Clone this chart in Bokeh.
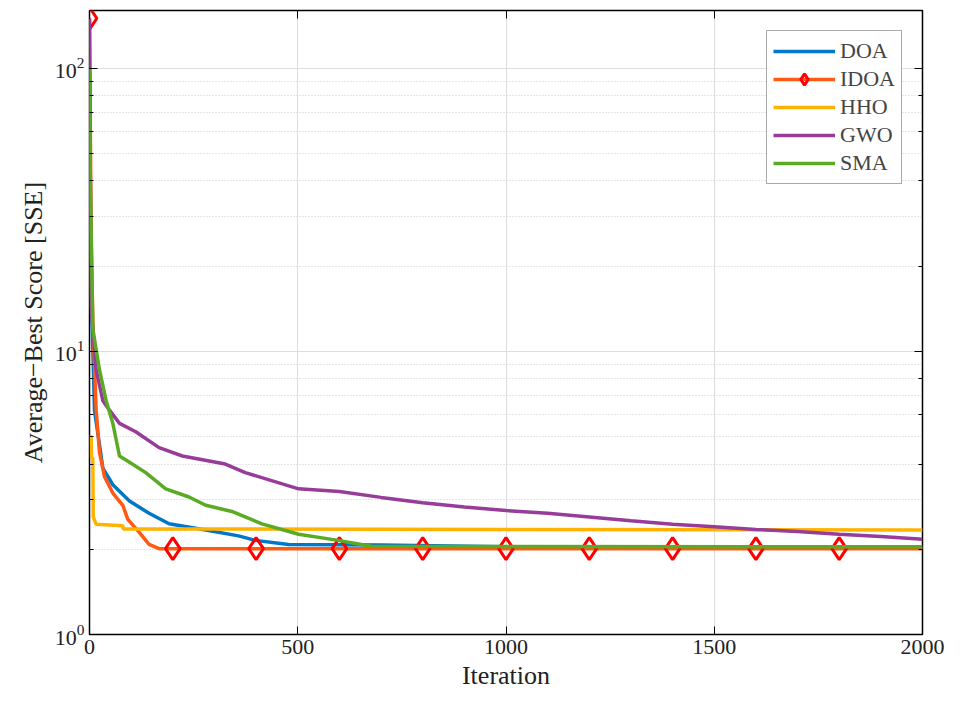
from bokeh.plotting import figure
from bokeh.models import LinearAxis, LogAxis, FixedTicker, Legend, LegendItem
from bokeh.embed import file_html
from bokeh.resources import INLINE

doa_x = [0, 2, 4, 12, 32, 56, 96, 143, 191, 279, 358, 398, 478, 700, 1000, 2000]
doa_y = [80, 30, 16.7, 6.2, 3.87, 3.38, 2.96, 2.68, 2.46, 2.34, 2.23, 2.15, 2.08, 2.07, 2.04, 2.03]
idoa_x = [0, 2, 4, 8, 16, 24, 36, 56, 80, 92, 119, 143, 167, 2000]
idoa_y = [150, 60, 25, 12.8, 6.2, 4.4, 3.61, 3.16, 2.86, 2.55, 2.30, 2.08, 2.01, 2.01]
mk_x = [0, 200, 400, 600, 800, 1000, 1200, 1400, 1600, 1800]
mk_y = [150, 2.01, 2.01, 2.01, 2.01, 2.01, 2.01, 2.01, 2.01, 2.01]
hho_x = [0, 4, 5, 8, 9, 16, 80, 81, 2000]
hho_y = [5.0, 5.0, 4.2, 4.2, 2.6, 2.45, 2.42, 2.36, 2.34]
gwo_x = [0, 2, 4, 16, 32, 48, 72, 111, 167, 223, 326, 374, 502, 600, 700, 800, 900, 1000, 1100, 1200, 1300, 1400, 1500, 1600, 1700, 1800, 1900, 2000]
gwo_y = [150, 40, 14.2, 8.6, 6.7, 6.2, 5.57, 5.2, 4.57, 4.27, 4.0, 3.73, 3.27, 3.2, 3.05, 2.92, 2.82, 2.74, 2.68, 2.6, 2.52, 2.45, 2.40, 2.35, 2.31, 2.26, 2.22, 2.17]
sma_x = [0, 2, 8, 24, 40, 56, 72, 96, 135, 183, 239, 279, 342, 414, 502, 597, 677, 2000]
sma_y = [100, 40, 12, 8.6, 6.7, 5.57, 4.27, 4.06, 3.73, 3.27, 3.06, 2.86, 2.72, 2.46, 2.26, 2.15, 2.05, 2.04]

FONT = "Liberation Serif"
p = figure(width=950, height=700, y_axis_type="log", x_range=(0, 2000), y_range=(1, 160),
           output_backend="svg", toolbar_location=None,
           min_border_left=89, min_border_right=28, min_border_top=10, min_border_bottom=66)
p.outline_line_color = "black"
p.outline_line_width = 1.5
p.background_fill_color = "white"

p.xaxis.ticker = FixedTicker(ticks=[0, 500, 1000, 1500, 2000])
p.xaxis.axis_label = "Iteration"
p.yaxis.axis_label = "Average−Best Score [SSE]"
for ax in [p.xaxis[0], p.yaxis[0]]:
    ax.axis_label_text_font = FONT
    ax.axis_label_text_font_style = "normal"
    ax.axis_label_text_font_size = "26px"
    ax.axis_label_text_color = "#222222"
    ax.major_label_text_font = FONT
    ax.major_label_text_font_size = "22px"
    ax.major_label_text_color = "#222222"
    ax.major_tick_in = 8
    ax.major_tick_out = 0
    ax.minor_tick_in = 4
    ax.minor_tick_out = 0
    ax.axis_line_color = None
    ax.axis_label_standoff = 4
p.xaxis.minor_tick_line_color = None

top = LinearAxis(ticker=FixedTicker(ticks=[0, 500, 1000, 1500, 2000]), major_label_text_color=None,
                 major_tick_in=8, major_tick_out=0, minor_tick_line_color=None, axis_line_color=None)
right = LogAxis(major_label_text_color=None, major_tick_in=8, major_tick_out=0,
                minor_tick_in=4, minor_tick_out=0, axis_line_color=None)
p.add_layout(top, "above")
p.add_layout(right, "right")

p.xgrid.grid_line_color = "#dddddd"
p.ygrid.grid_line_color = "#dddddd"
p.ygrid.minor_grid_line_color = "#cccccc"
p.ygrid.minor_grid_line_dash = "1 2"

r1 = p.line(doa_x, doa_y, color="#0077C8", line_width=3.5)
r2 = p.line(idoa_x, idoa_y, color="#FF5A14", line_width=3.5)
r2m = p.scatter(mk_x, mk_y, marker="diamond", size=22, fill_color=None, line_color="#FF0000", line_width=3)
r3 = p.line(hho_x, hho_y, color="#FFB300", line_width=3.5)
r4 = p.line(gwo_x, gwo_y, color="#983C9A", line_width=3.5)
r5 = p.line(sma_x, sma_y, color="#5BAA24", line_width=3.5)

legend = Legend(items=[LegendItem(label="DOA", renderers=[r1]),
                       LegendItem(label="IDOA", renderers=[r2, r2m]),
                       LegendItem(label="HHO", renderers=[r3]),
                       LegendItem(label="GWO", renderers=[r4]),
                       LegendItem(label="SMA", renderers=[r5])],
                location="top_right", label_text_font=FONT, label_text_font_size="22px",
                border_line_color="#555555", border_line_width=1.5, glyph_width=62,
                spacing=0, padding=6, margin=20, label_height=28, glyph_height=28)
p.add_layout(legend)

open("out.html", "w").write(file_html(p, INLINE))
